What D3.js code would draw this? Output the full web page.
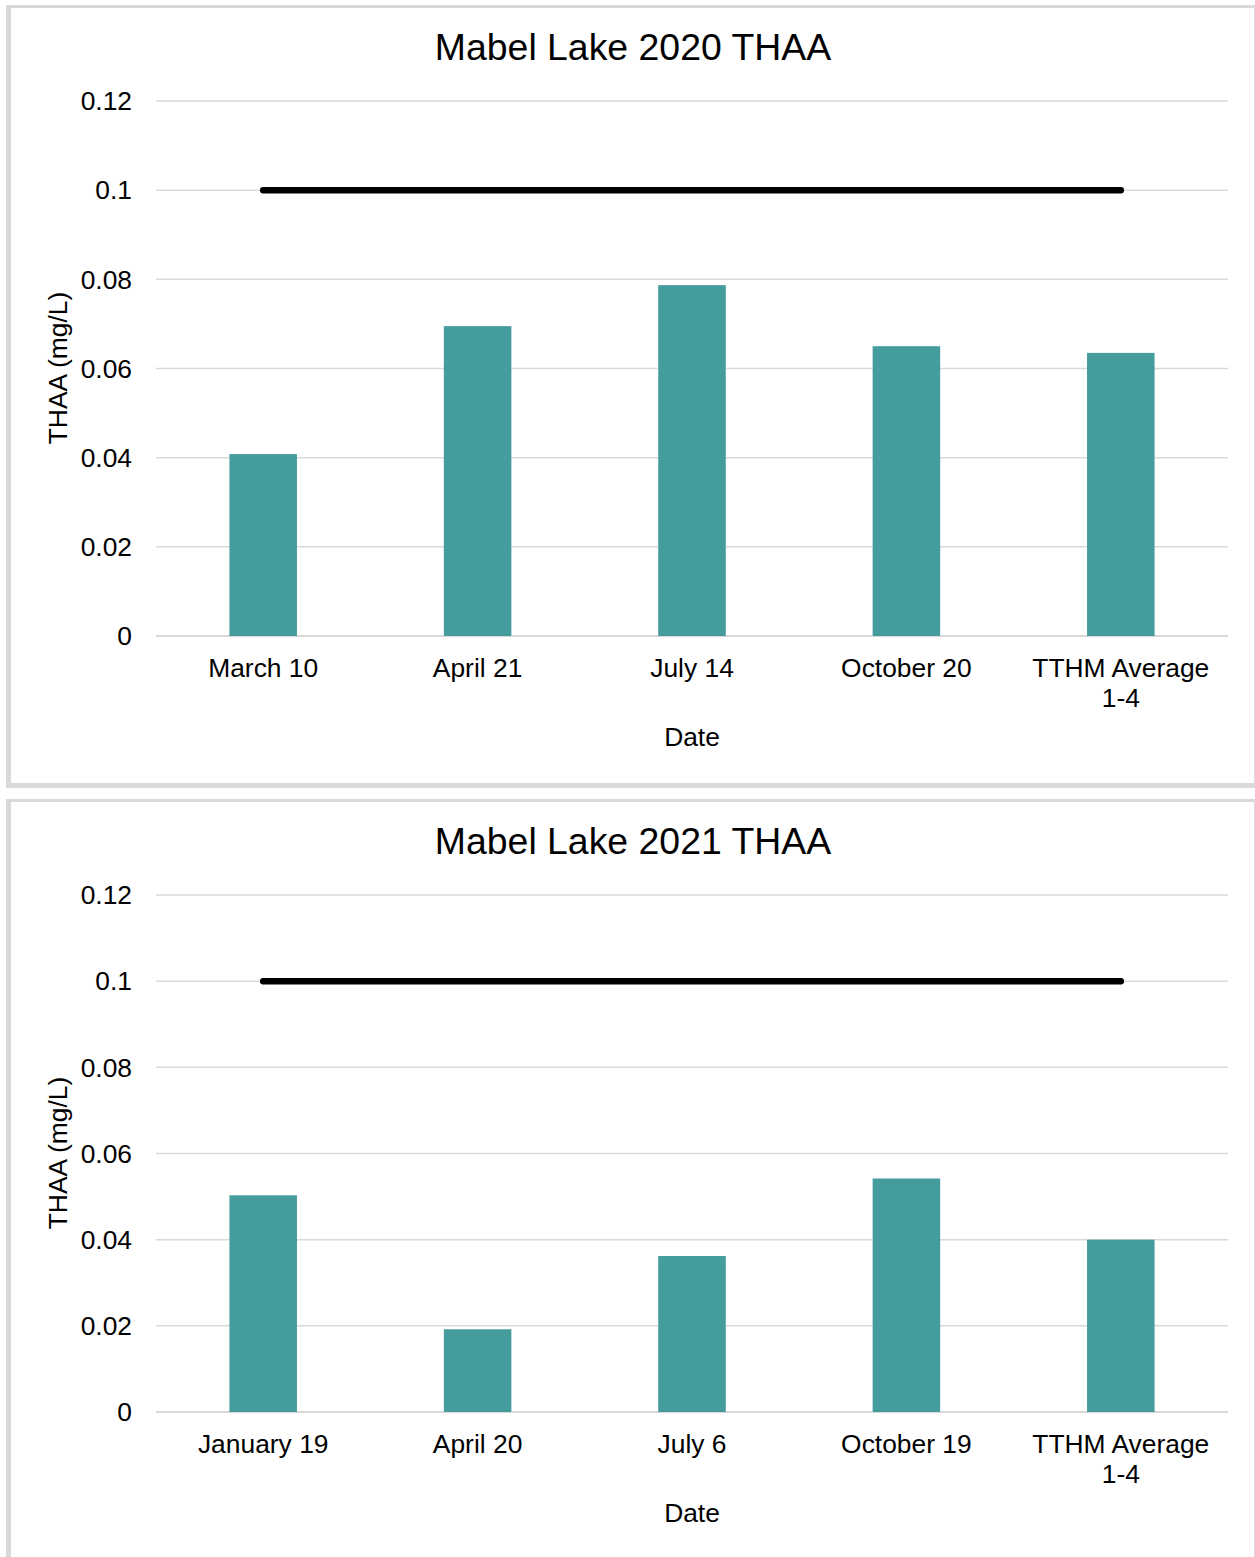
<!DOCTYPE html>
<html>
<head>
<meta charset="utf-8">
<script src="https://cdn.jsdelivr.net/npm/d3@7"></script>
<style>
  html, body { margin: 0; padding: 0; background: #ffffff; }
  svg { display: block; }
  text { font-family: "Liberation Sans", Arial, sans-serif; fill: #000; }
</style>
</head>
<body>
<svg id="chart" width="1255" height="1557"></svg>
<script>
// THAA sample results, Mabel Lake
const categories2020 = ["March 10", "April 21", "July 14", "October 20", "TTHM Average 1-4"];
const values2020 = [0.0408, 0.0695, 0.0787, 0.0650, 0.0635];
const limit2020 = [0.1, 0.1, 0.1, 0.1, 0.1];

const categories2021 = ["January 19", "April 20", "July 6", "October 19", "TTHM Average 1-4"];
const values2021 = [0.0503, 0.0192, 0.0362, 0.0542, 0.0400];
const limit2021 = [0.1, 0.1, 0.1, 0.1, 0.1];

const yTicks = [0, 0.02, 0.04, 0.06, 0.08, 0.1, 0.12];
const yTickLabels = ["0", "0.02", "0.04", "0.06", "0.08", "0.1", "0.12"];

const titles = ["Mabel Lake 2020 THAA", "Mabel Lake 2021 THAA"];
const xTitle = "Date";
const yTitle = "THAA (mg/L)";

const svg = d3.select("#chart");
const barColor = "#449c9d";
const gridColor = "#d9d9d9";
const fs = 26.4;

function wrap(textSel, width) {
  textSel.each(function () {
    const t = d3.select(this);
    const words = t.text().split(/\s+/);
    const x = t.attr("x");
    t.text(null);
    let line = [];
    let tspan = t.append("tspan").attr("x", x).attr("dy", 0);
    words.forEach(w => {
      line.push(w);
      tspan.text(line.join(" "));
      if (tspan.node().getComputedTextLength() > width && line.length > 1) {
        line.pop();
        tspan.text(line.join(" "));
        line = [w];
        tspan = t.append("tspan").attr("x", x).attr("dy", "1.14em").text(w);
      }
    });
  });
}

function drawChart(cfg) {
  const g = svg.append("g");

  // panel frame
  g.append("rect").attr("x", 6).attr("y", cfg.frameTop).attr("width", 1249)
    .attr("height", cfg.frameBottom - cfg.frameTop).attr("fill", "#d9d9d9");
  g.append("rect").attr("x", 11).attr("y", cfg.frameTop + 3).attr("width", 1243)
    .attr("height", cfg.innerBottom - cfg.frameTop - 3).attr("fill", "#ffffff");

  const x = d3.scaleBand().domain(cfg.categories).range([156, 1228])
    .paddingInner(0.685).paddingOuter(0.3425);
  const y = d3.scaleLinear().domain([0, 0.12]).range([cfg.y0, cfg.y12]);

  // gridlines
  g.append("g").selectAll("line").data(yTicks).join("line")
    .attr("x1", 156).attr("x2", 1228)
    .attr("y1", d => y(d)).attr("y2", d => y(d))
    .attr("stroke", gridColor).attr("stroke-width", d => d === 0 ? 2 : 1.5);

  // y tick labels
  g.append("g").selectAll("text").data(yTicks).join("text")
    .attr("x", 132).attr("y", d => y(d)).attr("dy", "0.35em")
    .attr("text-anchor", "end").attr("font-size", fs)
    .text((d, i) => yTickLabels[i]);

  // bars
  g.append("g").selectAll("rect").data(cfg.values).join("rect")
    .attr("x", (d, i) => x(cfg.categories[i]))
    .attr("width", x.bandwidth())
    .attr("y", d => y(d))
    .attr("height", d => y(0) - y(d))
    .attr("fill", barColor);

  // limit line
  const line = d3.line()
    .x((d, i) => x(cfg.categories[i]) + x.bandwidth() / 2)
    .y(d => y(d));
  g.append("path").datum(cfg.limit).attr("d", line)
    .attr("fill", "none").attr("stroke", "#000")
    .attr("stroke-width", 6.5).attr("stroke-linecap", "round");

  // category labels
  g.append("g").selectAll("text").data(cfg.categories).join("text")
    .attr("x", d => x(d) + x.bandwidth() / 2)
    .attr("y", cfg.catY)
    .attr("text-anchor", "middle").attr("font-size", fs)
    .text(d => d)
    .call(wrap, 200);

  // axis titles
  g.append("text").attr("x", 692).attr("y", cfg.xTitleY)
    .attr("text-anchor", "middle").attr("font-size", fs).text(xTitle);
  g.append("text")
    .attr("transform", `translate(67,${cfg.yTitleY}) rotate(-90)`)
    .attr("text-anchor", "middle").attr("font-size", fs).text(yTitle);

  // chart title
  g.append("text").attr("x", 633).attr("y", cfg.titleY)
    .attr("text-anchor", "middle").attr("font-size", 37.4).text(cfg.title);
}

drawChart({
  categories: categories2020, values: values2020, limit: limit2020, title: titles[0],
  frameTop: 5, frameBottom: 788, innerBottom: 783,
  y0: 636, y12: 101, catY: 677, xTitleY: 746, yTitleY: 368, titleY: 60
});

drawChart({
  categories: categories2021, values: values2021, limit: limit2021, title: titles[1],
  frameTop: 799, frameBottom: 1600, innerBottom: 1600,
  y0: 1412, y12: 895, catY: 1453, xTitleY: 1522, yTitleY: 1153, titleY: 854
});
</script>
</body>
</html>
